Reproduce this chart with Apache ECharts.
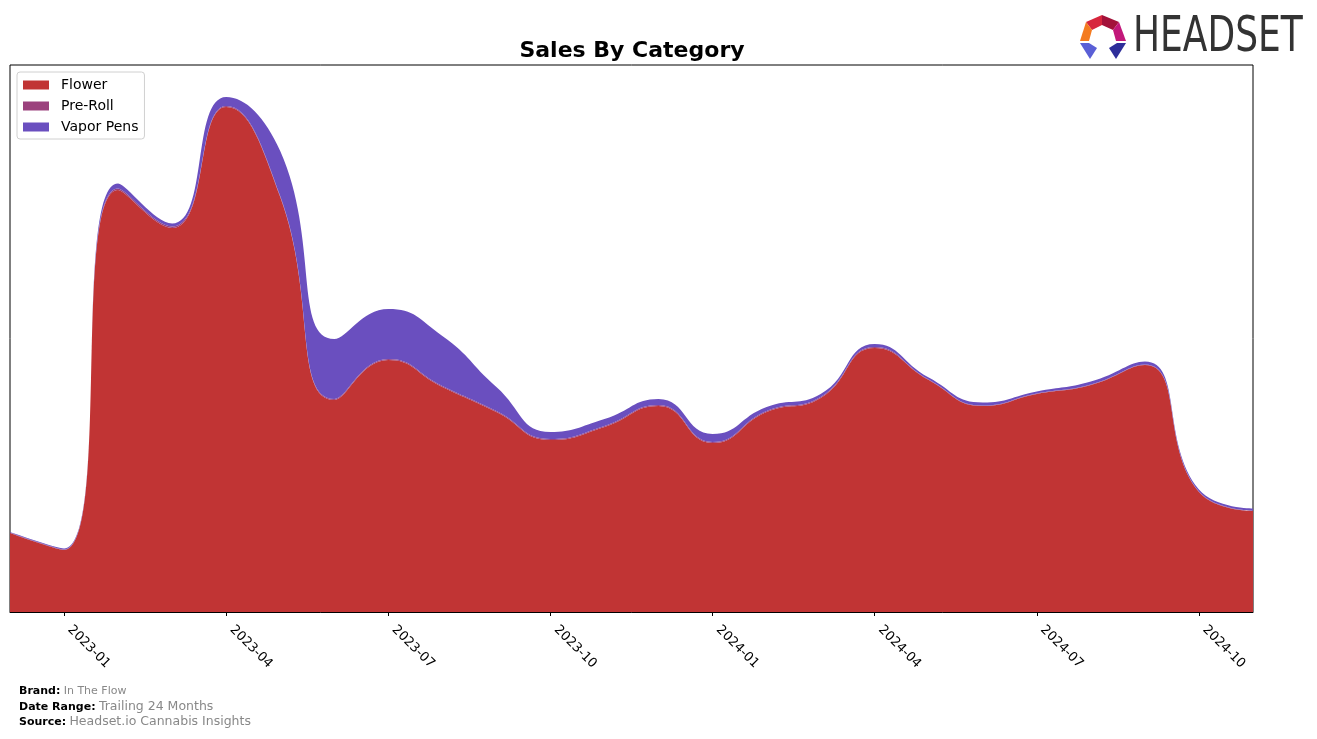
<!DOCTYPE html>
<html>
<head>
<meta charset="utf-8">
<script src="https://cdn.jsdelivr.net/npm/echarts@6/dist/echarts.min.js"></script>
<style>
html,body{margin:0;padding:0;background:#fff;}
#chart{width:1317px;height:739px;}
</style>
</head>
<body>
<div id="chart"></div>
<script>
// Months (first of month)
const months = ['2022-12','2023-01','2023-02','2023-03','2023-04','2023-05','2023-06','2023-07','2023-08','2023-09','2023-10','2023-11','2023-12','2024-01','2024-02','2024-03','2024-04','2024-05','2024-06','2024-07','2024-08','2024-09','2024-10','2024-11'];
const flower   = [79, 62, 422, 384, 505, 415, 212, 252, 225, 200, 172, 185, 206, 169, 200, 214, 264, 232, 206, 218, 227, 247, 120, 101];
const preRoll  = [0.5, 0.5, 1.5, 1.5, 1, 1, 1, 1, 1, 1, 1, 1, 1, 1, 1, 1, 1, 0.5, 0.5, 0.5, 0.5, 0.5, 0.5, 0.5];
const vaporPens= [0.5, 1, 5, 3, 9, 45, 60, 50, 50, 24, 7, 7, 6, 8, 4, 3, 3, 2, 3, 2, 3, 3, 2, 2];
const tickMonths = ['2023-01','2023-04','2023-07','2023-10','2024-01','2024-04','2024-07','2024-10'];

const colors = { 'Flower': '#C13434', 'Pre-Roll': '#9B417D', 'Vapor Pens': '#6A4FBF' };

function isTick(i, v){ return tickMonths.indexOf(v) >= 0; }

function mk(name, vals){
  return {
    name: name, type: 'line', stack: 'total', smooth: 0.5, showSymbol: false, symbol: 'none',
    lineStyle: { width: 0 },
    itemStyle: { color: colors[name] },
    areaStyle: { color: colors[name], opacity: 1 },
    data: vals
  };
}

const chart = echarts.init(document.getElementById('chart'), null, { renderer: 'canvas' });
chart.setOption({
  animation: false,
  backgroundColor: '#ffffff',
  title: {
    text: 'Sales By Category', left: 627, top: 35, textAlign: 'center',
    textStyle: { fontFamily: 'DejaVu Sans', fontWeight: 'bold', fontSize: 22, color: '#000' }
  },
  legend: {
    orient: 'vertical', left: 17, top: 72, padding: [6, 6, 5, 6], itemGap: 7,
    itemWidth: 26, itemHeight: 9, icon: 'rect',
    borderColor: '#d0d0d0', borderWidth: 1, borderRadius: 3, backgroundColor: '#fff',
    textStyle: { fontFamily: 'DejaVu Sans', fontSize: 14, color: '#000', padding: [0,0,0,7] },
    data: ['Flower', 'Pre-Roll', 'Vapor Pens']
  },
  grid: { left: 10, right: 64, top: 65, bottom: 127, show: true, borderColor: '#000', borderWidth: 1, backgroundColor: 'transparent' },
  xAxis: {
    type: 'category', boundaryGap: false, data: months,
    axisLine: { show: true, lineStyle: { color: '#000', width: 1 } },
    axisTick: { show: true, length: 4, lineStyle: { color: '#000' }, interval: isTick },
    axisLabel: {
      interval: isTick, rotate: -45, fontFamily: 'DejaVu Sans', fontSize: 13, color: '#000', margin: 10,
      padding: [0, 0, 0, 8]
    },
    splitLine: { show: false }
  },
  yAxis: { type: 'value', min: 0, max: 547, show: false, splitLine: { show: false } },
  series: [ mk('Flower', flower), mk('Pre-Roll', preRoll), mk('Vapor Pens', vaporPens) ],
  graphic: [
    { type: 'text', x: 19, y: 691, style: { textVerticalAlign: 'middle', rich: { b: { fontFamily: 'DejaVu Sans', fontWeight: 'bold', fontSize: 11, fill: '#000' }, g: { fontFamily: 'DejaVu Sans', fontSize: 11, fill: '#888' } }, text: '{b|Brand:} {g|In The Flow}' } },
    { type: 'text', x: 19, y: 707, style: { textVerticalAlign: 'middle', rich: { b: { fontFamily: 'DejaVu Sans', fontWeight: 'bold', fontSize: 11, fill: '#000' }, g: { fontFamily: 'DejaVu Sans', fontSize: 12.5, fill: '#888' } }, text: '{b|Date Range:} {g|Trailing 24 Months}' } },
    { type: 'text', x: 19, y: 722, style: { textVerticalAlign: 'middle', rich: { b: { fontFamily: 'DejaVu Sans', fontWeight: 'bold', fontSize: 11, fill: '#000' }, g: { fontFamily: 'DejaVu Sans', fontSize: 12.5, fill: '#888' } }, text: '{b|Source:} {g|Headset.io Cannabis Insights}' } },
    // logo icon
    { type: 'polygon', shape: { points: [[1086,22],[1102,15],[1102,25],[1092,30]] }, style: { fill: '#D7263D' } },
    { type: 'polygon', shape: { points: [[1102,15],[1119,22],[1113,30],[1102,25]] }, style: { fill: '#A3123A' } },
    { type: 'polygon', shape: { points: [[1119,22],[1126,41],[1116,41],[1113,30]] }, style: { fill: '#C2187A' } },
    { type: 'polygon', shape: { points: [[1086,22],[1092,30],[1089,41],[1080,41]] }, style: { fill: '#F47B20' } },
    { type: 'polygon', shape: { points: [[1080,43],[1089,43],[1097,48],[1090,59]] }, style: { fill: '#5A5FD6' } },
    { type: 'polygon', shape: { points: [[1126,43],[1117,43],[1109,48],[1116,59]] }, style: { fill: '#2E2E9A' } },
    { type: 'text', x: 1133, y: 38, scaleX: 0.72, style: { text: 'HEADSET', textVerticalAlign: 'middle', fontFamily: 'DejaVu Sans', fontSize: 50, fill: '#333333' } }
  ]
});
</script>
</body>
</html>
